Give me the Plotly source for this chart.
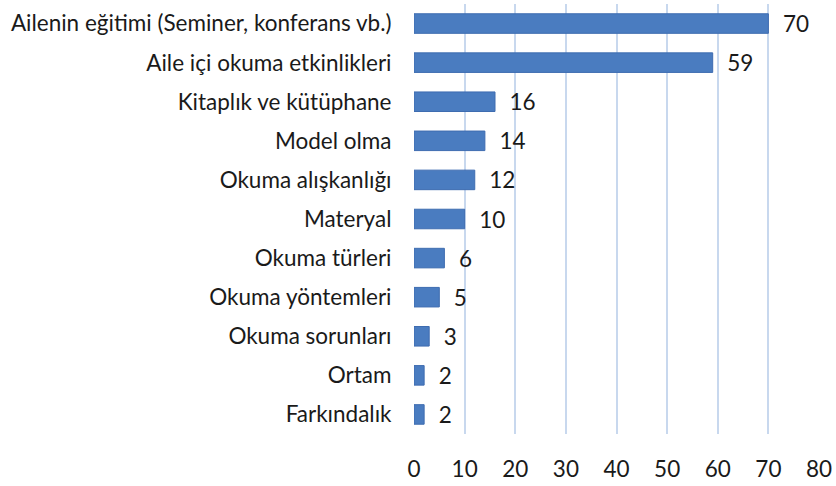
import plotly.graph_objects as go

categories = [
    "Ailenin eğitimi (Seminer, konferans vb.)",
    "Aile içi okuma etkinlikleri",
    "Kitaplık ve kütüphane",
    "Model olma",
    "Okuma alışkanlığı",
    "Materyal",
    "Okuma türleri",
    "Okuma yöntemleri",
    "Okuma sorunları",
    "Ortam",
    "Farkındalık",
]
values = [70, 59, 16, 14, 12, 10, 6, 5, 3, 2, 2]
x_ticks = [0, 10, 20, 30, 40, 50, 60, 70, 80]

FONT = "Lato"
SIZE = 22.5

fig = go.Figure()
fig.add_trace(go.Bar(
    y=categories,
    x=values,
    orientation="h",
    marker=dict(color="#4a7cc0", line=dict(color="#3e6cb0", width=1)),
    texttemplate="\u00a0\u00a0%{x}",
    textposition="outside",
    constraintext="none",
    textfont=dict(family=FONT, size=SIZE, color="#1a1a1a"),
    cliponaxis=False,
))

fig.update_layout(
    width=836,
    height=486,
    margin=dict(l=414, r=14, t=4, b=49),
    paper_bgcolor="white",
    plot_bgcolor="white",
    showlegend=False,
    bargap=0.5,
    font=dict(family=FONT, size=SIZE, color="#1a1a1a"),
    xaxis=dict(
        range=[0, 80],
        tickvals=x_ticks,
        showgrid=True,
        gridcolor="#c8d8ee",
        gridwidth=2,
        zeroline=False,
        showline=False,
        ticks="outside",
        ticklen=15,
        tickcolor="rgba(0,0,0,0)",
        tickfont=dict(family=FONT, size=SIZE, color="#1a1a1a"),
    ),
    yaxis=dict(
        categoryorder="array",
        categoryarray=categories[::-1],
        showgrid=False,
        showline=False,
        ticks="outside",
        ticklen=17,
        tickcolor="rgba(0,0,0,0)",
        tickfont=dict(family=FONT, size=SIZE, color="#1a1a1a"),
    ),
)

# drop the page's default body margin so the figure sits at the window's corner
fig.write_html(
    "out.html",
    config={"displayModeBar": False},
    post_script="document.body.style.margin='0';",
)
